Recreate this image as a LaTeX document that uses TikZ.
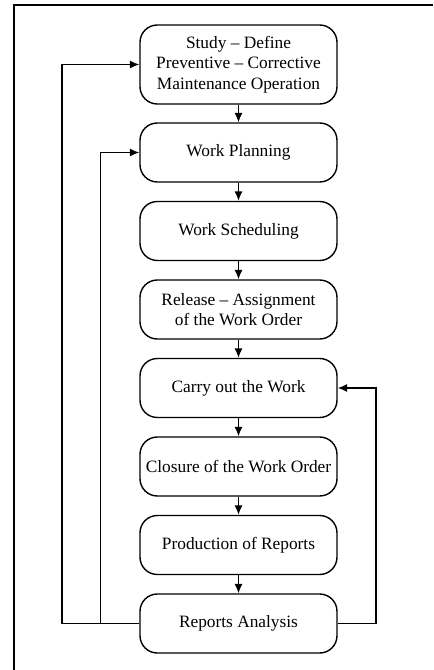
\documentclass[tikz,border=0pt]{standalone}
\usepackage{fontspec}
\setmainfont{Liberation Serif}
\usetikzlibrary{arrows.meta}
\begin{document}
\begin{tikzpicture}[x=0.75pt,y=-0.75pt,
  stepbox/.style={draw,line width=1.05pt,rounded corners=13pt,
    minimum width=147.75pt,minimum height=44.25pt,align=center,
    inner sep=2pt,font=\fontsize{13}{15.2}\selectfont},
  flow/.style={line width=1.05pt,-{Latex[length=7pt,width=6pt]}},
  wire/.style={line width=1.05pt}]
\useasboundingbox (0,0) rectangle (433,670);
% outer frame
\draw[wire] (14,670) -- (14,5) -- (433,5);
% process steps
\node[stepbox,minimum height=59.25pt] (s1) at (238.5,64.5) {Study – Define\\Preventive – Corrective\\Maintenance Operation};
\node[stepbox] (s2) at (238.5,152.5) {Work Planning};
\node[stepbox] (s3) at (238.5,231) {Work Scheduling};
\node[stepbox] (s4) at (238.5,309.5) {Release – Assignment\\of the Work Order};
\node[stepbox] (s5) at (238.5,388) {Carry out the Work};
\node[stepbox] (s6) at (238.5,466.5) {Closure of the Work Order};
\node[stepbox] (s7) at (238.5,545) {Production of Reports};
\node[stepbox] (s8) at (238.5,623.5) {Reports Analysis};
% main sequence
\foreach \a/\b in {s1/s2,s2/s3,s3/s4,s4/s5,s5/s6,s6/s7,s7/s8}
  \draw[flow] (\a) -- (\b);
% feedback loops
\coordinate (lo) at (62,0);
\coordinate (li) at (100.5,0);
\coordinate (ro) at (376,0);
\draw[flow] (s8.west) -- (s8.west -| lo) |- (s1.west);
\draw[flow] (s8.west -| li) |- (s2.west);
\draw[flow] (s8.east) -- (s8.east -| ro) |- (s5.east);
\end{tikzpicture}
\end{document}
